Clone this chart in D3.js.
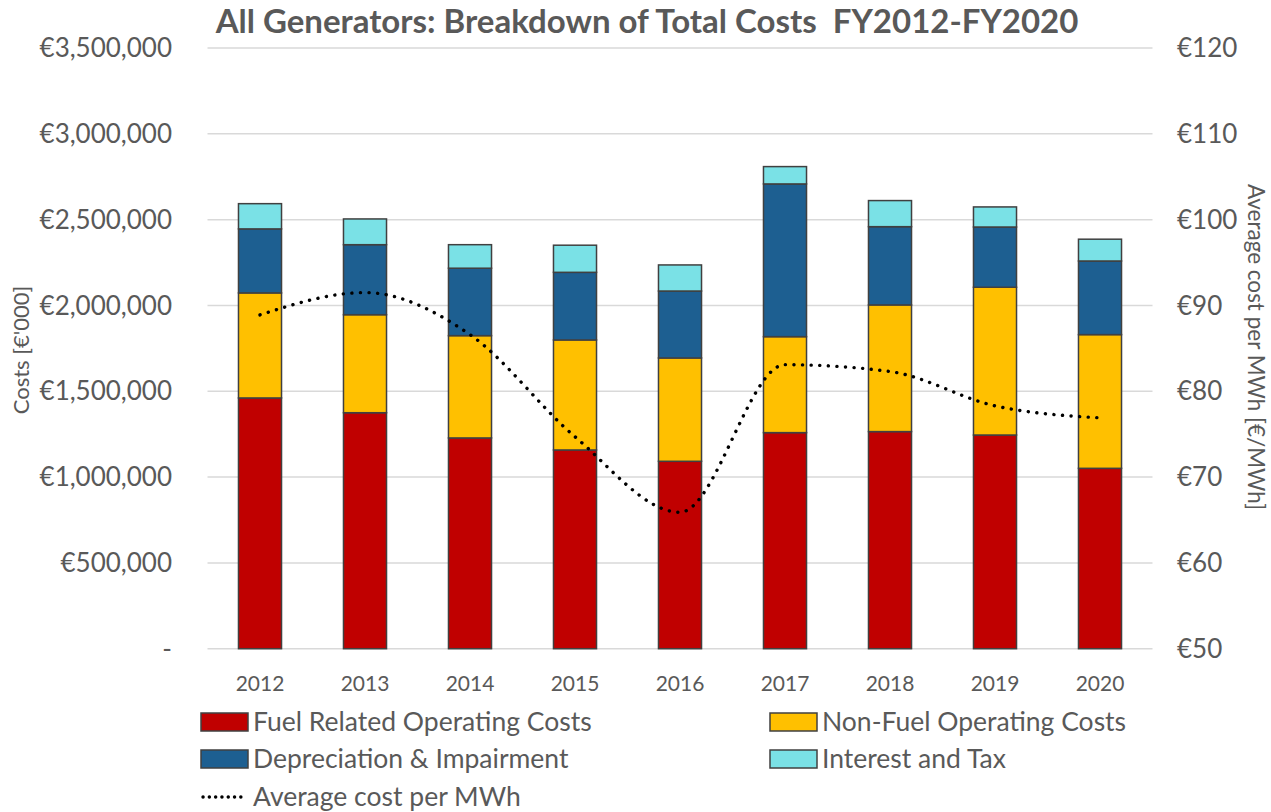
<!DOCTYPE html>
<html>
<head>
<meta charset="utf-8">
<script src="https://cdn.jsdelivr.net/npm/d3@7"></script>
<style>
	body { margin: 0; background: #fff; }
	svg { font-family: Lato, "Open Sans", sans-serif; }
</style>
</head>
<body>
<svg id="chart" width="1271" height="812"></svg>
<script>
const years = ["2012","2013","2014","2015","2016","2017","2018","2019","2020"]
const seriesNames = ["Fuel Related Operating Costs","Non-Fuel Operating Costs","Depreciation & Impairment","Interest and Tax"]
const fuel = [1461000,1375000,1228000,1158000,1092000,1259000,1265000,1245000,1051000]
const nonFuel = [612000,571000,596000,641000,602000,559000,738000,861000,779000]
const depreciation = [373000,408000,393000,394000,390000,890000,456000,351000,429000]
const interestTax = [147000,150000,137000,158000,152000,101000,152000,117000,127000]
const avgCost = [88.9,91.5,86.6,74.7,65.9,83.1,82.3,78.3,76.9]
const leftTicks = [0,500000,1000000,1500000,2000000,2500000,3000000,3500000]
const rightTicks = [50,60,70,80,90,100,110,120]
const colors = ["#c00000","#ffc000","#1d5f91","#7ae1e6"]

const svg = d3.select("#chart"),
	margin = {left: 207.5, right: 1152.5, top: 48, bottom: 648.7},
	textColor = "#595959"

const x = d3.scaleBand().domain(years).range([margin.left, margin.right]).paddingInner(0.59).paddingOuter(0.295)
const y = d3.scaleLinear().domain([0, 3500000]).range([margin.bottom, margin.top])
const y2 = d3.scaleLinear().domain([50, 120]).range([margin.bottom, margin.top])

// grid
svg.append("g").selectAll("line")
	.data(leftTicks).enter().append("line")
	.attr("x1", margin.left).attr("x2", margin.right)
	.attr("y1", d=>y(d)).attr("y2", d=>y(d))
	.attr("stroke", "#d9d9d9").attr("stroke-width", 1.5)

// stacked bars
const rows = years.map((yr,i) => ({year: yr, s0: fuel[i], s1: nonFuel[i], s2: depreciation[i], s3: interestTax[i]}))
const stack = d3.stack().keys(["s0","s1","s2","s3"])(rows)
svg.append("g").selectAll("g")
	.data(stack).enter().append("g")
	.attr("fill", (d,i)=>colors[i])
	.selectAll("rect")
	.data(d=>d).enter().append("rect")
	.attr("x", d=>x(d.data.year))
	.attr("width", x.bandwidth())
	.attr("y", d=>y(d[1]))
	.attr("height", d=>y(d[0]) - y(d[1]))
	.attr("stroke", "#404040").attr("stroke-width", 1.5)

// average cost line
const line = d3.line()
	.x((d,i)=>x(years[i]) + x.bandwidth()/2)
	.y(d=>y2(d))
	.curve(d3.curveMonotoneX)
svg.append("path")
	.attr("d", line(avgCost))
	.attr("fill", "none").attr("stroke", "#000")
	.attr("stroke-width", 3.4).attr("stroke-linecap", "round")
	.attr("stroke-dasharray", "0.1 8.5")

// left axis labels
const fmt = d => d === 0 ? "-" : "€" + d3.format(",")(d)
svg.append("g").selectAll("text")
	.data(leftTicks).enter().append("text")
	.attr("x", 172).attr("y", d=>y(d)).attr("dy", "0.35em")
	.attr("text-anchor", "end").attr("font-size", 26).attr("fill", textColor)
	.text(fmt)

// right axis labels
svg.append("g").selectAll("text")
	.data(rightTicks).enter().append("text")
	.attr("x", 1177).attr("y", d=>y2(d)).attr("dy", "0.35em")
	.attr("font-size", 26).attr("fill", textColor)
	.text(d=>"€" + d)

// x labels
svg.append("g").selectAll("text")
	.data(years).enter().append("text")
	.attr("x", d=>x(d) + x.bandwidth()/2).attr("y", 684).attr("dy", "0.35em")
	.attr("text-anchor", "middle").attr("font-size", 21).attr("fill", textColor)
	.text(d=>d)

// axis titles
svg.append("text")
	.attr("transform", "translate(21,350) rotate(-90)")
	.attr("text-anchor", "middle").attr("dy", "0.35em").attr("font-size", 22).attr("fill", textColor)
	.text("Costs [€'000]")
svg.append("text")
	.attr("transform", "translate(1256,347) rotate(90)")
	.attr("text-anchor", "middle").attr("dy", "0.35em").attr("font-size", 22.5).attr("fill", textColor)
	.text("Average cost per MWh [€/MWh]")

// title
svg.append("text")
	.attr("x", 647).attr("y", 33)
	.attr("text-anchor", "middle").attr("font-size", 33).attr("font-weight", "bold").attr("fill", textColor)
	.attr("xml:space", "preserve")
	.text("All Generators: Breakdown of Total Costs  FY2012-FY2020")

// legend
const legendItems = [
	{name: seriesNames[0], color: colors[0], x: 201, y: 722},
	{name: seriesNames[1], color: colors[1], x: 770, y: 722},
	{name: seriesNames[2], color: colors[2], x: 201, y: 759},
	{name: seriesNames[3], color: colors[3], x: 770, y: 759}
]
const lg = svg.append("g").selectAll("g").data(legendItems).enter().append("g")
lg.append("rect")
	.attr("x", d=>d.x).attr("y", d=>d.y - 9)
	.attr("width", 47).attr("height", 18)
	.attr("fill", d=>d.color).attr("stroke", "#404040").attr("stroke-width", 1.5)
lg.append("text")
	.attr("x", d=>d.x + 52).attr("y", d=>d.y).attr("dy", "0.35em")
	.attr("font-size", 26.5).attr("fill", textColor)
	.text(d=>d.name)
svg.append("line")
	.attr("x1", 203).attr("x2", 247).attr("y1", 797).attr("y2", 797)
	.attr("stroke", "#000").attr("stroke-width", 3.4).attr("stroke-linecap", "round")
	.attr("stroke-dasharray", "0.1 6.2")
svg.append("text")
	.attr("x", 253).attr("y", 797).attr("dy", "0.35em")
	.attr("font-size", 26.5).attr("fill", textColor)
	.text("Average cost per MWh")
</script>
</body>
</html>
